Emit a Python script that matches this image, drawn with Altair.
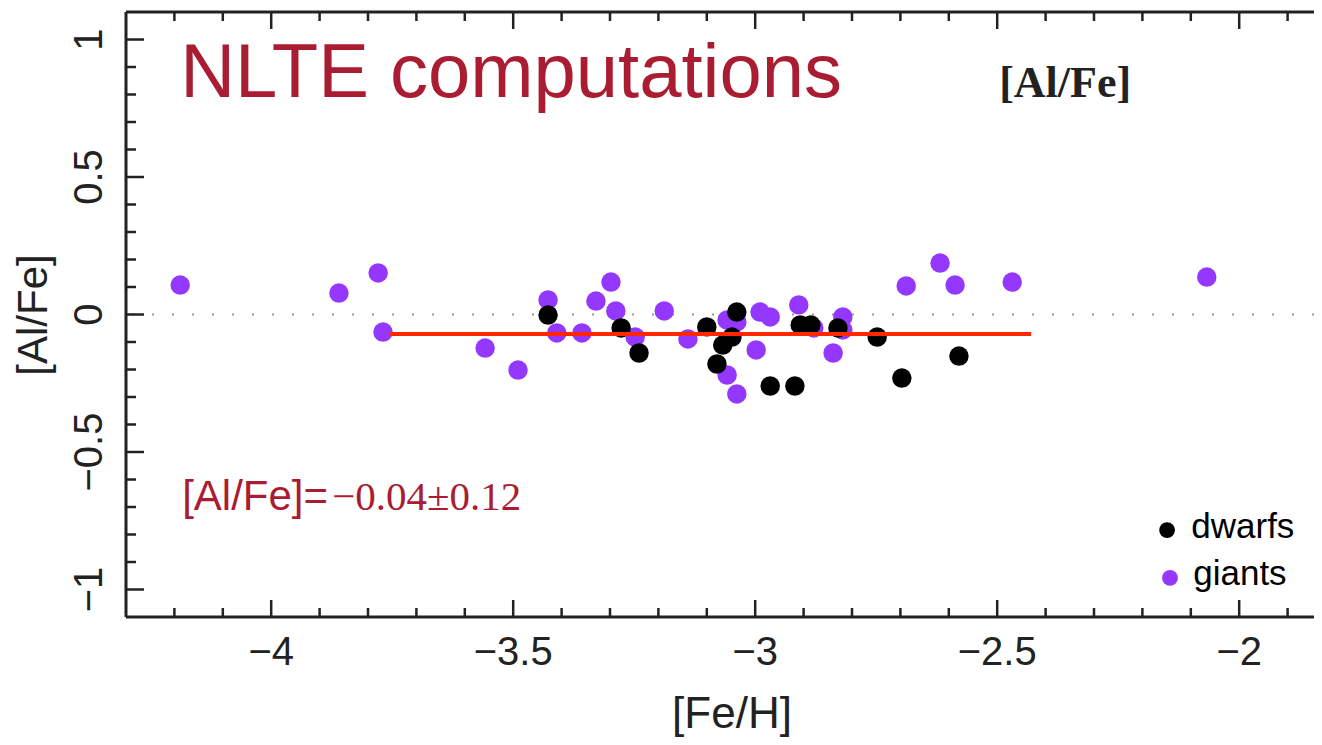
import altair as alt
import pandas as pd

# ---------------- data ----------------
giant_feh = [-4.188, -3.860, -3.779, -3.769, -3.558, -3.490, -3.428, -3.410, -3.358, -3.329,
             -3.298, -3.288, -3.248, -3.188, -3.139, -3.058, -3.038, -2.990, -2.969, -2.998,
             -3.058, -3.038, -2.910, -2.879, -2.839, -2.819, -2.819, -2.688, -2.618, -2.587,
             -2.469, -2.067]
giant_alfe = [0.107, 0.078, 0.151, -0.064, -0.122, -0.202, 0.053, -0.067, -0.067, 0.049,
              0.118, 0.013, -0.082, 0.013, -0.089, -0.020, -0.027, 0.009, -0.009, -0.129,
              -0.220, -0.289, 0.035, -0.049, -0.140, -0.009, -0.056, 0.104, 0.187, 0.107,
              0.118, 0.136]

dwarf_feh = [-3.428, -3.277, -3.240, -3.100, -3.038, -3.048, -3.067, -3.079, -2.969, -2.918,
             -2.907, -2.885, -2.829, -2.748, -2.697, -2.579]
dwarf_alfe = [-0.002, -0.049, -0.140, -0.045, 0.009, -0.082, -0.111, -0.180, -0.260, -0.260,
              -0.038, -0.038, -0.049, -0.082, -0.231, -0.151]

mean_feh = [-3.755, -2.430]
mean_alfe = [-0.071, -0.071]

x_major = [-4, -3.5, -3, -2.5, -2]
x_labels = ["\u22124", "\u22123.5", "\u22123", "\u22122.5", "\u22122"]
x_minor = [-4.2, -4.1, -3.9, -3.8, -3.7, -3.6, -3.4, -3.3, -3.2, -3.1,
           -2.9, -2.8, -2.7, -2.6, -2.4, -2.3, -2.2, -2.1, -1.9]
y_major = [-1, -0.5, 0, 0.5, 1]
y_labels = ["\u22121", "\u22120.5", "0", "0.5", "1"]
y_minor = [0.9, 0.8, 0.7, 0.6, 0.4, 0.3, 0.2, 0.1, -0.1, -0.2, -0.3, -0.4,
           -0.6, -0.7, -0.8, -0.9]

series_names = ["dwarfs", "giants"]
series_colors = ["#000000", "#9438FF"]

legend_labels = ["dwarfs", "giants"]
legend_dot_x = [-2.149, -2.143]
legend_dot_y = [-0.784, -0.958]
legend_text_x = [-2.099, -2.095]
legend_text_y = [-0.813, -0.984]

# ---------------- layout ----------------
W, H = 1188, 605
X_DOMAIN = [-4.3, -4.3 + W / 484.0]
Y_DOMAIN = [-1.1, 1.1]
xs = alt.Scale(domain=X_DOMAIN, nice=False, zero=False)
ys = alt.Scale(domain=Y_DOMAIN, nice=False, zero=False)
cs = alt.Scale(domain=series_names, range=series_colors)
INK = "#222222"
RED_TEXT = "#AA1C32"
SANS = "Liberation Sans"

pts = pd.concat([
    pd.DataFrame({"feh": giant_feh, "alfe": giant_alfe, "type": "giants", "o": 0}),
    pd.DataFrame({"feh": dwarf_feh, "alfe": dwarf_alfe, "type": "dwarfs", "o": 1}),
], ignore_index=True)

zero_line = alt.Chart(pd.DataFrame({"v": [0]})).mark_rule(
    color="#999999", strokeWidth=2, strokeDash=[2, 18]
).encode(y=alt.Y("v:Q", scale=ys, axis=None))

points = alt.Chart(pts).mark_circle(size=380, opacity=1).encode(
    x=alt.X("feh:Q", scale=xs, axis=None),
    y=alt.Y("alfe:Q", scale=ys, axis=None),
    color=alt.Color("type:N", scale=cs, legend=None),
    order=alt.Order("o:Q"),
)

mean_line = alt.Chart(pd.DataFrame({"feh": mean_feh, "alfe": mean_alfe})).mark_line(
    color="#FF2600", strokeWidth=4
).encode(x=alt.X("feh:Q", scale=xs, axis=None), y=alt.Y("alfe:Q", scale=ys, axis=None))


def text_layer(txt, x, y, font, size, color, weight="normal"):
    return alt.Chart(pd.DataFrame({"t": [txt], "x": [x], "y": [y]})).mark_text(
        align="left", baseline="alphabetic", font=font, fontSize=size,
        fontWeight=weight, color=color
    ).encode(x=alt.X("x:Q", scale=xs, axis=None), y=alt.Y("y:Q", scale=ys, axis=None),
             text="t:N")


t_title = text_layer("NLTE computations", -4.188, 0.791, SANS, 76, RED_TEXT)
t_eq1 = text_layer("[Al/Fe]=", -4.184, -0.711, SANS, 42, RED_TEXT)
t_eq2 = text_layer("\u22120.04\u00b10.12", -3.874, -0.711, "Liberation Serif", 41, RED_TEXT)
t_tag = text_layer("[Al/Fe]", -2.496, 0.791, "Liberation Serif", 44, INK, "bold")

leg = pd.DataFrame({"label": legend_labels, "dx": legend_dot_x, "dy": legend_dot_y,
                    "tx": legend_text_x, "ty": legend_text_y})
leg_dots = alt.Chart(leg).mark_circle(size=250, opacity=1).encode(
    x=alt.X("dx:Q", scale=xs, axis=None), y=alt.Y("dy:Q", scale=ys, axis=None),
    color=alt.Color("label:N", scale=cs, legend=None))
leg_text = alt.Chart(leg).mark_text(
    align="left", baseline="alphabetic", font=SANS, fontSize=35, color="#000000"
).encode(x=alt.X("tx:Q", scale=xs, axis=None), y=alt.Y("ty:Q", scale=ys, axis=None),
         text="label:N")

# ---------------- axes (frame, inward ticks, labels, titles) ----------------
one = pd.DataFrame({"v": [0]})
frame = [
    alt.Chart(one).mark_rule(color=INK, strokeWidth=3).encode(
        x=alt.value(0), x2=alt.value(W), y=alt.value(0)),
    alt.Chart(one).mark_rule(color=INK, strokeWidth=3).encode(
        x=alt.value(0), x2=alt.value(W), y=alt.value(H)),
    alt.Chart(one).mark_rule(color=INK, strokeWidth=3).encode(
        x=alt.value(0), y=alt.value(0), y2=alt.value(H)),
]


def xticks(vals, length):
    d = pd.DataFrame({"v": vals})
    bot = alt.Chart(d).mark_rule(color=INK, strokeWidth=2.5).encode(
        x=alt.X("v:Q", scale=xs, axis=None), y=alt.value(H), y2=alt.value(H - length))
    top = alt.Chart(d).mark_rule(color=INK, strokeWidth=2.5).encode(
        x=alt.X("v:Q", scale=xs, axis=None), y=alt.value(0), y2=alt.value(length))
    return [bot, top]


def yticks(vals, length):
    d = pd.DataFrame({"v": vals})
    return [alt.Chart(d).mark_rule(color=INK, strokeWidth=2.5).encode(
        y=alt.Y("v:Q", scale=ys, axis=None), x=alt.value(0), x2=alt.value(length))]


x_lab = alt.Chart(pd.DataFrame({"v": x_major, "t": x_labels})).mark_text(
    align="center", baseline="alphabetic", font=SANS, fontSize=40, color=INK
).encode(x=alt.X("v:Q", scale=xs, axis=None), y=alt.value(H + 48), text="t:N")

y_lab = alt.Chart(pd.DataFrame({"v": y_major, "t": y_labels})).mark_text(
    align="center", baseline="alphabetic", font=SANS, fontSize=40, color=INK, angle=270
).encode(y=alt.Y("v:Q", scale=ys, axis=None), x=alt.value(-24), text="t:N")

x_title = alt.Chart(pd.DataFrame({"t": ["[Fe/H]"]})).mark_text(
    align="center", baseline="alphabetic", font=SANS, fontSize=44, color=INK
).encode(x=alt.value(606), y=alt.value(H + 111), text="t:N")

y_title = alt.Chart(pd.DataFrame({"t": ["[Al/Fe]"]})).mark_text(
    align="center", baseline="alphabetic", font=SANS, fontSize=42, color=INK, angle=270
).encode(x=alt.value(-79), y=alt.value(303), text="t:N")

layers = [zero_line, points, mean_line, t_title, t_eq1, t_eq2, t_tag, leg_dots, leg_text,
          x_lab, y_lab, x_title, y_title]
layers += frame
layers += xticks(x_major, 17) + xticks(x_minor, 9) + yticks(y_major, 18) + yticks(y_minor, 10)

chart = alt.layer(*layers).properties(
    width=W, height=H,
    autosize=alt.AutoSizeParams(type="none"),
    padding={"left": 118, "top": 4, "right": 0, "bottom": 120},
    background="white",
).configure_view(stroke=None)

chart.save("out.html", embed_options={"renderer": "svg", "actions": False})
